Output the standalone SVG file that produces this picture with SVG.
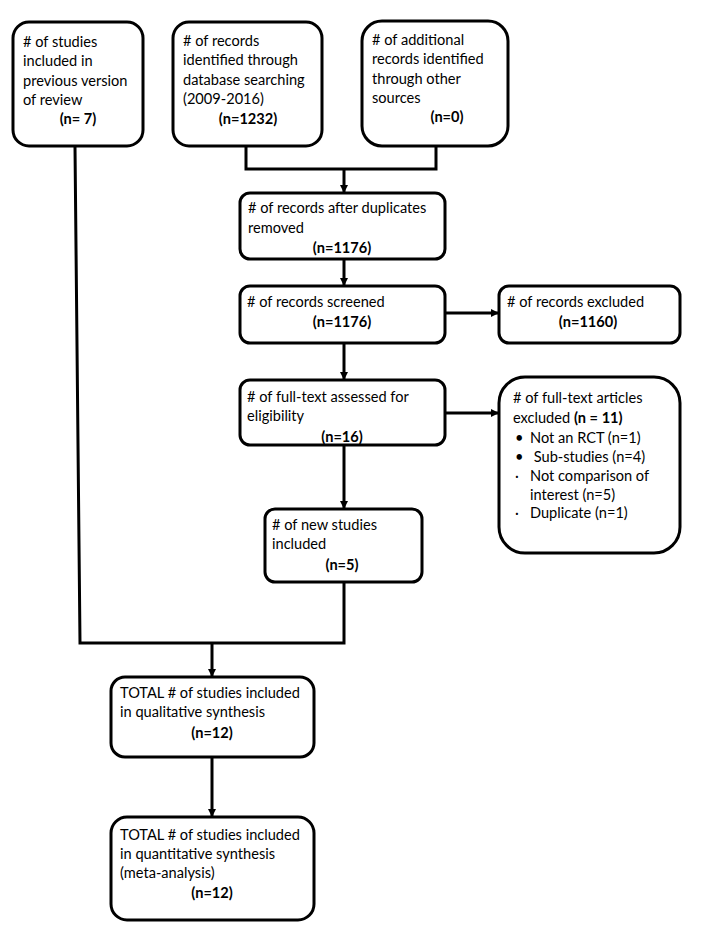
<svg xmlns="http://www.w3.org/2000/svg" width="702" height="945" viewBox="0 0 702 945">
<style>
.box{fill:#fff;stroke:#000;stroke-width:3}
text{font-family:Lato,"Open Sans",sans-serif;font-size:14.6px;fill:#000}
.b{font-weight:bold}
.c{text-anchor:middle}
.ln{fill:none;stroke:#000;stroke-width:3}
</style>
<defs>
<marker id="ah" markerWidth="8" markerHeight="8" refX="7" refY="4" orient="auto" markerUnits="userSpaceOnUse">
<path d="M0,0 L8,4 L0,8 z" fill="#000"/>
</marker>
</defs>
<rect width="702" height="945" fill="#fff"/>
<g id="connectors">
<path class="ln" d="M246,147 V169 H436 V147"/>
<path class="ln" d="M344,169 V192" marker-end="url(#ah)"/>
<path class="ln" d="M344,259 V285" marker-end="url(#ah)"/>
<path class="ln" d="M445,313 H498" marker-end="url(#ah)"/>
<path class="ln" d="M344,343 V379" marker-end="url(#ah)"/>
<path class="ln" d="M445,413 H498" marker-end="url(#ah)"/>
<path class="ln" d="M344,445 V508" marker-end="url(#ah)"/>
<path class="ln" d="M344,582 V643 H80 L75,147"/>
<path class="ln" d="M212,643 V676" marker-end="url(#ah)"/>
<path class="ln" d="M212,757 V816" marker-end="url(#ah)"/>
</g>
<g id="prev">
<rect class="box" x="13" y="22" width="130" height="124" rx="16"/>
<text x="23" y="47">
<tspan x="23">#&#160;of studies</tspan>
<tspan x="23" dy="19.3">included in</tspan>
<tspan x="23" dy="19.3">previous version</tspan>
<tspan x="23" dy="19.3">of review</tspan>
</text>
<text class="b c" x="78" y="124">(n= 7)</text>
</g>
<g id="db">
<rect class="box" x="173" y="22" width="149" height="124" rx="16"/>
<text x="183" y="46">
<tspan x="183">#&#160;of records</tspan>
<tspan x="183" dy="19.3">identified through</tspan>
<tspan x="183" dy="19.3">database searching</tspan>
<tspan x="183" dy="19.3">(2009-2016)</tspan>
</text>
<text class="b c" x="248" y="124">(n=1232)</text>
</g>
<g id="other">
<rect class="box" x="362" y="21" width="146" height="125" rx="20"/>
<text x="372" y="45">
<tspan x="372">#&#160;of additional</tspan>
<tspan x="372" dy="19.3">records identified</tspan>
<tspan x="372" dy="19.3">through other</tspan>
<tspan x="372" dy="19.3">sources</tspan>
</text>
<text class="b c" x="447" y="122">(n=0)</text>
</g>
<g id="dup">
<rect class="box" x="240" y="193" width="205" height="66" rx="10"/>
<text x="248" y="213">#&#160;of records after duplicates</text>
<text x="248" y="233">removed</text>
<text class="b c" x="342" y="253">(n=1176)</text>
</g>
<g id="screened">
<rect class="box" x="240" y="286" width="205" height="57" rx="10"/>
<text x="247" y="307">#&#160;of records screened</text>
<text class="b c" x="342" y="327">(n=1176)</text>
</g>
<g id="excluded">
<rect class="box" x="499" y="286" width="181" height="57" rx="10"/>
<text x="507" y="307">#&#160;of records excluded</text>
<text class="b c" x="588" y="327">(n=1160)</text>
</g>
<g id="fulltext">
<rect class="box" x="240" y="380" width="205" height="65" rx="10"/>
<text x="247" y="402">#&#160;of full-text assessed for</text>
<text x="247" y="421">eligibility</text>
<text class="b c" x="342" y="442">(n=16)</text>
</g>
<g id="ftexcluded">
<rect class="box" x="499" y="377" width="181" height="176" rx="26"/>
<text x="513" y="403">#&#160;of full-text articles</text>
<text x="513" y="423">excluded <tspan class="b">(n = 11)</tspan></text>
<text x="515" y="443">•</text><text x="530" y="443">Not an RCT (n=1)</text>
<text x="515" y="462">•</text><text x="530" y="462">&#160;Sub-studies (n=4)</text>
<text x="515" y="481">·</text><text x="530" y="481">Not comparison of</text>
<text x="530" y="500">interest (n=5)</text>
<text x="515" y="518">·</text><text x="530" y="518">Duplicate (n=1)</text>
</g>
<g id="newstudies">
<rect class="box" x="265" y="509" width="157" height="73" rx="10"/>
<text x="272" y="530">#&#160;of new studies</text>
<text x="272" y="549">included</text>
<text class="b c" x="342" y="570">(n=5)</text>
</g>
<g id="qual">
<rect class="box" x="111" y="677" width="203" height="80" rx="14"/>
<text x="120" y="698">TOTAL #&#160;of studies included</text>
<text x="120" y="717">in qualitative synthesis</text>
<text class="b c" x="212" y="738">(n=12)</text>
</g>
<g id="quant">
<rect class="box" x="111" y="817" width="203" height="103" rx="16"/>
<text x="120" y="840">TOTAL #&#160;of studies included</text>
<text x="120" y="859">in quantitative synthesis</text>
<text x="120" y="878">(meta-analysis)</text>
<text class="b c" x="212" y="898">(n=12)</text>
</g>
</svg>
